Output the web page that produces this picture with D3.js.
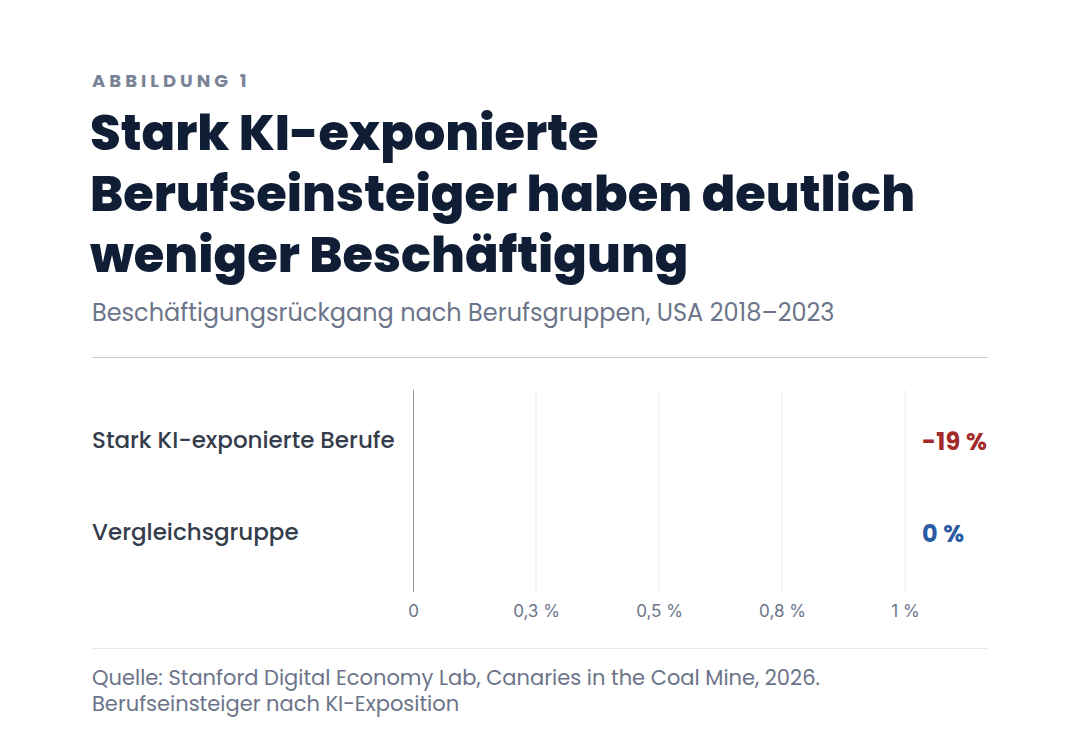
<!DOCTYPE html>
<html>
<head>
<meta charset="utf-8">
<script src="https://cdn.jsdelivr.net/npm/d3@7"></script>
<style>
  body { margin: 0; background: #fff; }
  svg { display: block; font-family: Poppins, Inter, "Noto Sans", sans-serif; }
</style>
</head>
<body>
<svg id="chart"></svg>
<script>
const kicker = 'ABBILDUNG 1';
const titleLines = ['Stark KI-exponierte', 'Berufseinsteiger haben deutlich', 'weniger Beschäftigung'];
const subtitle = 'Beschäftigungsrückgang nach Berufsgruppen, USA 2018–2023';
const categories = ['Stark KI-exponierte Berufe', 'Vergleichsgruppe'];
const values = [-19, 0];
const valueLabels = ['-19 %', '0 %'];
const xTicks = [0, 0.25, 0.5, 0.75, 1];
const sourceLines = ['Quelle: Stanford Digital Economy Lab, Canaries in the Coal Mine, 2026.', 'Berufseinsteiger nach KI-Exposition'];
const colors = ['#a52a2a', '#2a5ba4'];

const W = 1080, H = 752;
const svg = d3.select('#chart').attr('width', W).attr('height', H);

// header
svg.append('text')
  .attr('x', 92).attr('y', 87)
  .attr('fill', '#7a8396')
  .style('font-size', '18px').style('font-weight', 700).style('letter-spacing', '4px')
  .text(kicker);

svg.append('g').selectAll('text')
  .data(titleLines)
  .join('text')
  .attr('x', 90)
  .attr('y', (d, i) => 150 + i * 61)
  .attr('fill', '#0f1d35')
  .style('font-size', '49.5px').style('font-weight', 800)
  .text(d => d);

svg.append('text')
  .attr('x', 92).attr('y', 321)
  .attr('fill', '#6b7489')
  .style('font-size', '24px')
  .text(subtitle);

svg.append('line')
  .attr('x1', 92).attr('x2', 988).attr('y1', 357.5).attr('y2', 357.5)
  .attr('stroke', '#c5ccd5').attr('stroke-width', 1);

// chart
const x = d3.scaleLinear().domain([0, 1]).range([413, 905]);
const y = d3.scaleBand().domain(categories).range([380.2, 591.8]).padding(0.3);
const plotTop = 390, plotBottom = 592;

svg.append('g').selectAll('line')
  .data(xTicks.slice(1))
  .join('line')
  .attr('x1', d => x(d)).attr('x2', d => x(d))
  .attr('y1', plotTop).attr('y2', plotBottom)
  .attr('stroke', '#e9ecf0').attr('stroke-width', 1);

// bars (clamped at zero, values are outside the shown domain)
svg.append('g').selectAll('rect')
  .data(values)
  .join('rect')
  .attr('x', x(0))
  .attr('y', (d, i) => y(categories[i]))
  .attr('width', d => Math.max(0, x(Math.min(d, 1)) - x(0)))
  .attr('height', y.bandwidth())
  .attr('fill', (d, i) => colors[i]);

svg.append('line')
  .attr('x1', x(0) + 0.5).attr('x2', x(0) + 0.5).attr('y1', plotTop).attr('y2', plotBottom)
  .attr('stroke', '#8e95a3').attr('stroke-width', 1);

const de = d3.formatLocale({ decimal: ',', thousands: '.', grouping: [3], currency: ['', ' €'] });
const fmt = v => v === 0 ? '0' : de.format('.1~f')(v) + ' %';

const axis = svg.append('g')
  .attr('transform', `translate(0,${plotBottom})`)
  .call(d3.axisBottom(x).tickValues(xTicks).tickFormat(fmt).tickSize(0).tickPadding(13));
axis.select('.domain').remove();
axis.selectAll('text')
  .attr('fill', '#6b7489')
  .style('font-size', '17px')
  .style('font-family', 'Inter, "Noto Sans", sans-serif');

svg.append('g').selectAll('text')
  .data(categories)
  .join('text')
  .attr('x', 92)
  .attr('y', d => y(d) + y.bandwidth() / 2)
  .attr('dy', '0.33em')
  .attr('fill', '#353d4c')
  .style('font-size', '23px').style('font-weight', 500)
  .text(d => d);

svg.append('g').selectAll('text')
  .data(valueLabels)
  .join('text')
  .attr('x', 922)
  .attr('y', (d, i) => y(categories[i]) + y.bandwidth() / 2)
  .attr('dy', '0.4em')
  .attr('fill', (d, i) => colors[i])
  .style('font-size', '24px').style('font-weight', 700).style('letter-spacing', '0.3px')
  .text(d => d);

// footer
svg.append('line')
  .attr('x1', 92).attr('x2', 988).attr('y1', 648.5).attr('y2', 648.5)
  .attr('stroke', '#e6e9ed').attr('stroke-width', 1);

svg.append('g').selectAll('text')
  .data(sourceLines)
  .join('text')
  .attr('x', 92)
  .attr('y', (d, i) => 685 + i * 26)
  .attr('fill', '#6b7489')
  .style('font-size', '21px')
  .text(d => d);
</script>
</body>
</html>
